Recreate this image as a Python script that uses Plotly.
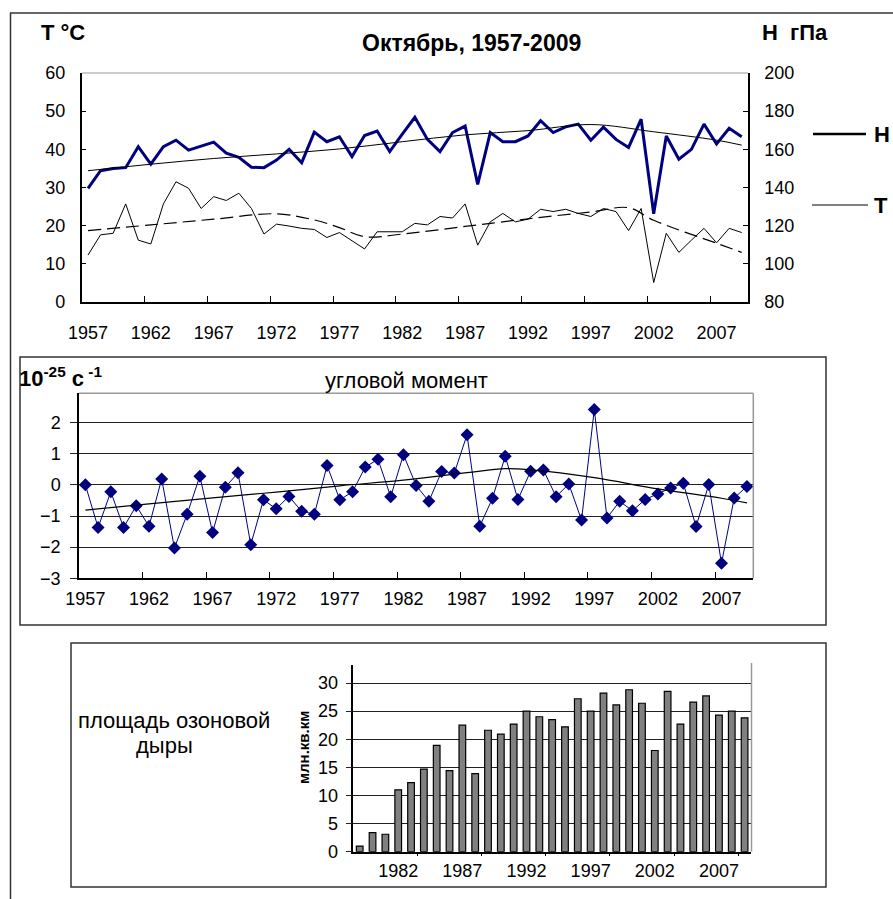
import plotly.graph_objects as go

# ---------------- data ----------------
years = list(range(1957, 2010))
H_hpa = [139.6, 148.8, 150.0, 150.4, 161.4, 152.2, 161.4, 164.8, 159.6, 161.8,
         163.8, 158.0, 155.8, 150.6, 150.4, 154.4, 160.0, 153.0, 169.0, 164.0,
         166.6, 156.2, 167.2, 169.6, 158.8, 168.0, 176.8, 165.2, 158.8, 168.8,
         172.2, 141.6, 168.8, 164.0, 164.0, 167.0, 175.0, 168.8, 171.8, 173.2,
         164.8, 171.6, 165.2, 161.0, 175.8, 126.2, 167.0, 154.8, 160.0, 173.2,
         162.8, 171.0, 166.6]
T_c = [12.3, 17.6, 18.0, 25.7, 16.2, 15.2, 25.7, 31.5, 29.8, 24.5,
       27.6, 26.6, 28.5, 24.5, 17.8, 20.4, 19.9, 19.3, 19.0, 16.9,
       18.2, 16.1, 13.9, 18.4, 18.4, 18.4, 20.6, 20.2, 22.4, 22.0,
       25.7, 14.9, 21.0, 23.2, 21.0, 21.7, 24.3, 23.7, 24.3, 23.2,
       22.4, 24.5, 23.7, 18.7, 24.5, 5.1, 18.0, 13.0, 16.2, 19.3,
       15.5, 19.3, 18.2]
moment = [0.0, -1.37, -0.22, -1.37, -0.67, -1.33, 0.19, -2.03, -0.94, 0.28,
          -1.53, -0.08, 0.39, -1.92, -0.48, -0.77, -0.37, -0.85, -0.94, 0.62,
          -0.48, -0.22, 0.57, 0.82, -0.38, 0.97, -0.02, -0.53, 0.43, 0.38,
          1.61, -1.33, -0.43, 0.92, -0.47, 0.44, 0.48, -0.38, 0.03, -1.13,
          2.42, -1.06, -0.53, -0.83, -0.47, -0.29, -0.10, 0.05, -1.34, 0.01,
          -2.52, -0.42, -0.05]

# trend curves
H_trend_years = [1957, 1962, 1967, 1972, 1977, 1982, 1987, 1992, 1997, 2002, 2007, 2009]
H_trend = [148.8, 152.2, 155.2, 157.6, 160.2, 164.0, 167.6, 169.8, 173.0, 169.2, 164.8, 162.2]
T_trend_years = [1957, 1962, 1967, 1972, 1975, 1977, 1979, 1982, 1987, 1992, 1997, 2000, 2002, 2007, 2009]
T_trend = [18.7, 20.2, 21.7, 23.1, 21.5, 19.5, 17.1, 17.8, 19.8, 21.8, 23.6, 24.7, 21.4, 15.4, 13.0]
M_trend_years = [1957, 1962, 1967, 1972, 1977, 1982, 1987, 1990, 1992, 1997, 2002, 2007, 2009]
M_trend = [-0.81, -0.61, -0.42, -0.23, -0.03, 0.15, 0.39, 0.52, 0.48, 0.23, -0.13, -0.43, -0.58]

oz_years = list(range(1979, 2010))
ozone = [1.0, 3.4, 3.1, 11.0, 12.3, 14.7, 18.9, 14.4, 22.5, 13.9,
         21.6, 20.9, 22.7, 25.0, 24.0, 23.5, 22.2, 27.2, 25.0, 28.2,
         26.1, 28.8, 26.4, 18.0, 28.5, 22.7, 26.6, 27.7, 24.3, 25.0, 23.8]

top_labels = list(range(1957, 2008, 5))
top_ticks = [1961.5, 1966.5, 1971.5, 1976.5, 1981.5, 1986.5, 1991.5, 1996.5, 2001.5, 2006.5]
oz_labels = list(range(1982, 2008, 5))
oz_ticks = [1983.5, 1988.5, 1993.5, 1998.5, 2003.5, 2008.5]

W, HGT = 893, 899
def px(x):
    return x / W
def py(y):
    return 1 - y / HGT

FONT = "Liberation Sans, Arial, sans-serif"
NAVY = "#000080"

fig = go.Figure()

# top chart
fig.add_trace(go.Scatter(x=years, y=T_c, mode="lines", line=dict(color="black", width=1),
                         xaxis="x", yaxis="y", showlegend=False))
fig.add_trace(go.Scatter(x=T_trend_years, y=T_trend, mode="lines",
                         line=dict(color="black", width=1.2, dash="13px,6px", shape="spline"),
                         xaxis="x", yaxis="y", showlegend=False))
fig.add_trace(go.Scatter(x=years, y=H_hpa, mode="lines", line=dict(color=NAVY, width=3),
                         xaxis="x", yaxis="y2", showlegend=False))
fig.add_trace(go.Scatter(x=H_trend_years, y=H_trend, mode="lines",
                         line=dict(color="black", width=1, shape="spline"),
                         xaxis="x", yaxis="y2", showlegend=False))

# middle chart
fig.add_trace(go.Scatter(x=years, y=moment, mode="lines+markers",
                         line=dict(color=NAVY, width=1),
                         marker=dict(symbol="diamond", size=10, color=NAVY),
                         xaxis="x2", yaxis="y3", showlegend=False))
fig.add_trace(go.Scatter(x=M_trend_years, y=M_trend, mode="lines",
                         line=dict(color="black", width=1.2, shape="spline"),
                         xaxis="x2", yaxis="y3", showlegend=False))

# bottom chart
fig.add_trace(go.Bar(x=oz_years, y=ozone, width=0.52,
                     marker=dict(color="#808080", line=dict(color="black", width=1.2)),
                     xaxis="x3", yaxis="y4", showlegend=False))

tickfont = dict(family=FONT, size=18, color="black")

fig.update_layout(
    width=W, height=HGT,
    margin=dict(l=0, r=0, t=0, b=0, autoexpand=False),
    paper_bgcolor="white", plot_bgcolor="rgba(0,0,0,0)",
    font=dict(family=FONT, color="black"),
    showlegend=False,
    xaxis=dict(domain=[px(81.7), px(748)], range=[1956.5, 2009.5], anchor="y",
               tickmode="array", tickvals=top_labels, ticks="", showgrid=False,
               zeroline=False, showline=True, linecolor="black", linewidth=1.5,
               tickfont=tickfont, ticklabelstandoff=14,
               minor=dict(tickvals=top_ticks, ticks="inside", ticklen=6,
                          tickcolor="black", tickwidth=1.2, showgrid=False)),
    yaxis=dict(domain=[py(302), py(73)], range=[0, 60], dtick=10, anchor="x",
               ticks="inside", ticklen=5, tickcolor="black", showgrid=False,
               zeroline=False, showline=True, linecolor="black", linewidth=1.5,
               tickfont=tickfont, ticklabelstandoff=11),
    yaxis2=dict(overlaying="y", side="right", range=[80, 200], dtick=20, anchor="x",
                ticks="inside", ticklen=5, tickcolor="black", showgrid=False,
                zeroline=False, showline=True, linecolor="black", linewidth=1.5,
                tickfont=tickfont, ticklabelstandoff=11),
    xaxis2=dict(domain=[px(79), px(753.3)], range=[1956.5, 2009.5], anchor="y3",
                tickmode="array", tickvals=top_labels, ticks="", showgrid=False,
                zeroline=False, showline=True, linecolor="black", linewidth=1.5,
                tickfont=tickfont, ticklabelstandoff=3,
                minor=dict(tickvals=top_ticks, ticks="inside", ticklen=7,
                           tickcolor="black", tickwidth=1.2, showgrid=False)),
    yaxis3=dict(domain=[py(578.3), py(393.3)], range=[-3, 2.94], anchor="x2",
                tickmode="array", tickvals=[-3, -2, -1, 0, 1, 2],
                ticks="outside", ticklen=7, tickcolor="#222", showgrid=True,
                gridcolor="#222", gridwidth=1.3, zeroline=False,
                showline=True, linecolor="black", linewidth=1.5,
                tickfont=tickfont, ticklabelstandoff=6),
    xaxis3=dict(domain=[px(353.3), px(751)], range=[1978.5, 2009.5], anchor="y4",
                tickmode="array", tickvals=oz_labels, ticks="", showgrid=False,
                zeroline=False, showline=True, linecolor="black", linewidth=1.5,
                tickfont=tickfont, ticklabelstandoff=2,
                minor=dict(tickvals=oz_ticks, ticks="outside", ticklen=3,
                           tickcolor="black", tickwidth=1.2, showgrid=False)),
    yaxis4=dict(domain=[py(851.7), py(665)], range=[0, 33.2], anchor="x3",
                tickmode="array", tickvals=[0, 5, 10, 15, 20, 25, 30],
                ticks="outside", ticklen=6, tickcolor="#222", showgrid=True,
                gridcolor="#222", gridwidth=1.3, zeroline=False,
                showline=True, linecolor="black", linewidth=1.5,
                tickfont=tickfont, ticklabelstandoff=4),
    bargap=0.48,
)

frame = dict(color="#333", width=1.5)
shapes = [
    dict(type="line", xref="paper", yref="paper", x0=px(10), x1=px(893), y0=py(13), y1=py(13), line=frame),
    dict(type="line", xref="paper", yref="paper", x0=px(10.5), x1=px(10.5), y0=py(13), y1=py(899), line=frame),
    dict(type="rect", xref="paper", yref="paper", x0=px(20), x1=px(826), y0=py(357), y1=py(625), line=frame),
    dict(type="rect", xref="paper", yref="paper", x0=px(71), x1=px(826), y0=py(643), y1=py(887), line=frame),
    dict(type="line", xref="paper", yref="paper", x0=px(81.7), x1=px(748), y0=py(73), y1=py(73),
         line=dict(color="#999", width=1.2)),
    dict(type="line", xref="paper", yref="paper", x0=px(79), x1=px(753.3), y0=py(393.3), y1=py(393.3),
         line=dict(color="#999", width=1.5)),
    dict(type="line", xref="paper", yref="paper", x0=px(753.3), x1=px(753.3), y0=py(393.3), y1=py(578.3),
         line=dict(color="#999", width=1.5)),
    dict(type="line", xref="paper", yref="paper", x0=px(751.5), x1=px(751.5), y0=py(663), y1=py(851.7),
         line=dict(color="#999", width=1.5)),
    dict(type="line", xref="paper", yref="paper", x0=px(813), x1=px(866), y0=py(134), y1=py(134),
         line=dict(color="black", width=2.5)),
    dict(type="line", xref="paper", yref="paper", x0=px(812), x1=px(868), y0=py(205), y1=py(205),
         line=dict(color="black", width=1)),
]

def ann(x, y, text, size, xanchor="left", yanchor="middle", textangle=0):
    return dict(xref="paper", yref="paper", x=px(x), y=py(y), text=text, showarrow=False,
                xanchor=xanchor, yanchor=yanchor, textangle=textangle, borderpad=0,
                font=dict(family=FONT, size=size, color="black"))

annotations = [
    ann(40, 32, "<b>T °C</b>", 22),
    ann(471, 43, "<b>Октябрь, 1957-2009</b>", 23, xanchor="center"),
    ann(761, 33, "<b>H  гПа</b>", 22),
    ann(873, 134, "<b>H</b>", 22),
    ann(873, 205, "<b>T</b>", 22),
    ann(18, 377, "<b>10<sup>-25</sup> с<sup> -1</sup></b>", 22),
    ann(406, 380, "угловой момент", 22, xanchor="center"),
    ann(174, 720, "площадь озоновой", 22, xanchor="center"),
    ann(164, 745, "дыры", 22, xanchor="center"),
    ann(303, 748, "<b>млн.кв.км</b>", 15, xanchor="center", textangle=-90),
]

fig.update_layout(shapes=shapes, annotations=annotations)
fig.write_html("out.html")
